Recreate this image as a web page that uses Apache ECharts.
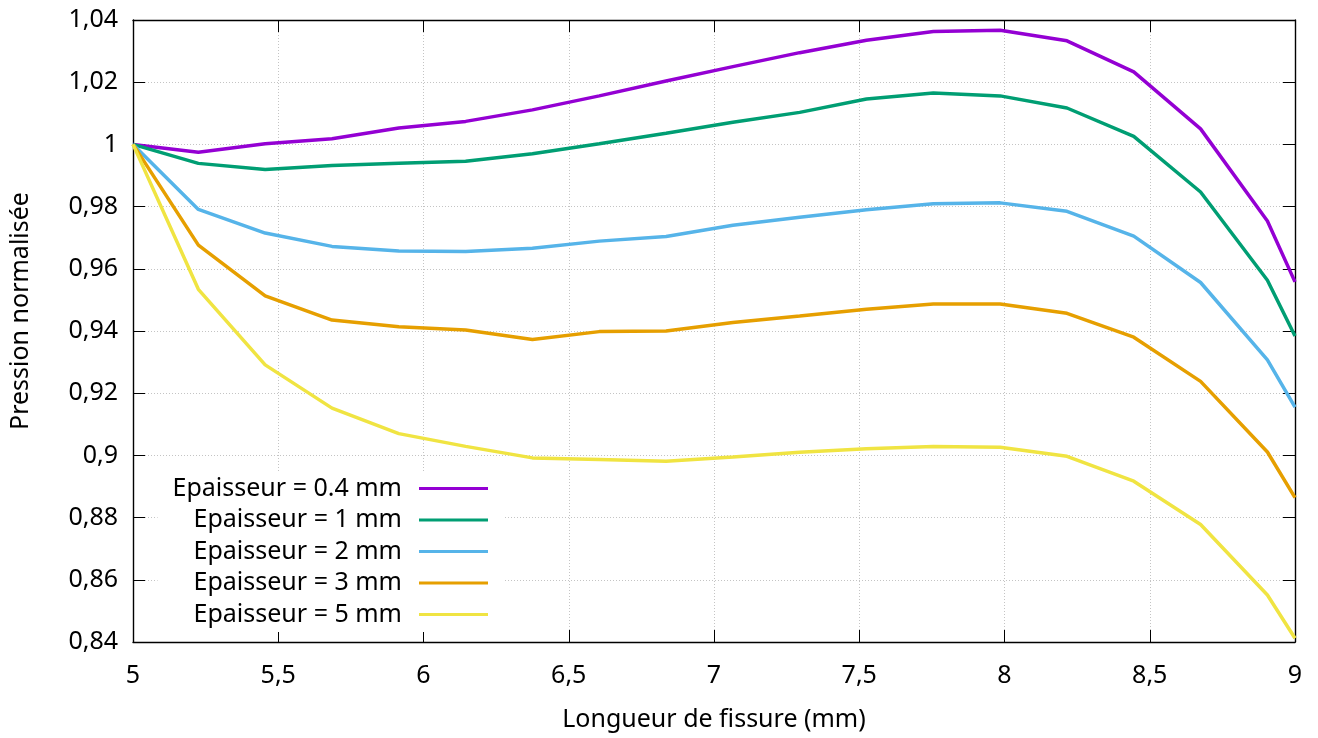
<!DOCTYPE html>
<html>
<head>
<meta charset="utf-8">
<script src="https://cdn.jsdelivr.net/npm/echarts@6/dist/echarts.min.js"></script>
<style>
html,body{margin:0;padding:0;background:#fff;}
#chart{width:1318px;height:738px;}
</style>
</head>
<body>
<div id="chart"></div>
<script>
// Crack length (mm)
var crackLength = [5, 5.225, 5.455, 5.685, 5.915, 6.145, 6.375, 6.605, 6.835, 7.065, 7.295, 7.525, 7.755, 7.985, 8.215, 8.445, 8.675, 8.905, 9];

var seriesNames = ['Epaisseur = 0.4 mm', 'Epaisseur = 1 mm', 'Epaisseur = 2 mm', 'Epaisseur = 3 mm', 'Epaisseur = 5 mm'];

var p04 = [1.0, 0.9975, 1.0002, 1.0018, 1.0053, 1.0074, 1.0111, 1.0156, 1.0204, 1.0250, 1.0295, 1.0335, 1.0363, 1.0367, 1.0333, 1.0233, 1.0050, 0.9754, 0.9558];
var p1  = [1.0, 0.9939, 0.9919, 0.9932, 0.9939, 0.9946, 0.9970, 1.0002, 1.0036, 1.0071, 1.0103, 1.0146, 1.0165, 1.0156, 1.0117, 1.0026, 0.9847, 0.9563, 0.9384];
var p2  = [1.0, 0.9791, 0.9715, 0.9672, 0.9657, 0.9656, 0.9666, 0.9689, 0.9704, 0.9740, 0.9766, 0.9790, 0.9809, 0.9812, 0.9785, 0.9705, 0.9556, 0.9307, 0.9155];
var p3  = [1.0, 0.9676, 0.9513, 0.9435, 0.9414, 0.9403, 0.9373, 0.9398, 0.9400, 0.9427, 0.9448, 0.9470, 0.9487, 0.9487, 0.9457, 0.9380, 0.9238, 0.9011, 0.8864];
var p5  = [1.0, 0.9534, 0.9291, 0.9152, 0.9070, 0.9029, 0.8992, 0.8987, 0.8981, 0.8995, 0.9010, 0.9021, 0.9029, 0.9026, 0.8997, 0.8917, 0.8778, 0.8551, 0.8412];

var seriesValues = [p04, p1, p2, p3, p5];
var colors = ['#9400D3', '#009E73', '#56B4E9', '#E69F00', '#F0E442'];

var xTitle = 'Longueur de fissure (mm)';
var yTitle = 'Pression normalisée';

var FONT = 'Noto Sans';
var FS = 25;

function fmt(v) {
  var s = String(+(+v).toFixed(4));
  return s.replace('.', ',');
}

function pairs(vals) {
  return crackLength.map(function (x, i) { return [x, vals[i]]; });
}

var gridLine = { show: true, lineStyle: { color: '#c4c4c4', type: [1, 2], width: 1 } };
var axisLine = { show: true, onZero: false, lineStyle: { color: '#000', width: 1.4 } };
var tick = { show: true, inside: true, length: 12, lineStyle: { color: '#000', width: 1 } };

var chart = echarts.init(document.getElementById('chart'), null, { renderer: 'canvas' });
chart.setOption({
  animation: false,
  backgroundColor: '#fff',
  color: colors,
  grid: { left: 133, right: 23, top: 20, bottom: 96, containLabel: false },
  legend: {
    orient: 'vertical',
    align: 'right',
    right: 815,
    top: 471,
    padding: [5, 15, 5, 15],
    backgroundColor: '#fff',
    itemGap: 6.5,
    itemWidth: 69,
    itemHeight: 3,
    icon: 'rect',
    data: seriesNames,
    textStyle: { fontFamily: FONT, fontSize: FS, color: '#000', lineHeight: 22, padding: [0, 12, 0, 0] }
  },
  xAxis: [{
    type: 'value', min: 5, max: 9, interval: 0.5, position: 'bottom',
    name: xTitle, nameLocation: 'middle', nameGap: 65,
    nameTextStyle: { fontFamily: FONT, fontSize: FS, color: '#000' },
    axisLine: axisLine, axisTick: tick, splitLine: gridLine,
    axisLabel: { fontFamily: FONT, fontSize: FS, color: '#000', margin: 21, formatter: fmt }
  }, {
    type: 'value', min: 5, max: 9, interval: 0.5, position: 'top',
    axisLine: axisLine, axisTick: tick, splitLine: { show: false },
    axisLabel: { show: false }
  }],
  yAxis: [{
    type: 'value', min: 0.84, max: 1.04, interval: 0.02, position: 'left',
    name: yTitle, nameLocation: 'middle', nameGap: 100,
    nameTextStyle: { fontFamily: FONT, fontSize: FS, color: '#000', padding: [0, 0, 0, 40] },
    axisLine: axisLine, axisTick: tick, splitLine: gridLine,
    axisLabel: { fontFamily: FONT, fontSize: FS, color: '#000', margin: 15, formatter: fmt }
  }, {
    type: 'value', min: 0.84, max: 1.04, interval: 0.02, position: 'right',
    axisLine: axisLine, axisTick: tick, splitLine: { show: false },
    axisLabel: { show: false }
  }],
  series: seriesValues.map(function (vals, i) {
    return {
      name: seriesNames[i],
      type: 'line',
      xAxisIndex: 0,
      yAxisIndex: 0,
      data: pairs(vals),
      showSymbol: false,
      symbol: 'none',
      lineStyle: { color: colors[i], width: 3.5 },
      itemStyle: { color: colors[i] },
      z: 2 + i
    };
  })
});
</script>
</body>
</html>
